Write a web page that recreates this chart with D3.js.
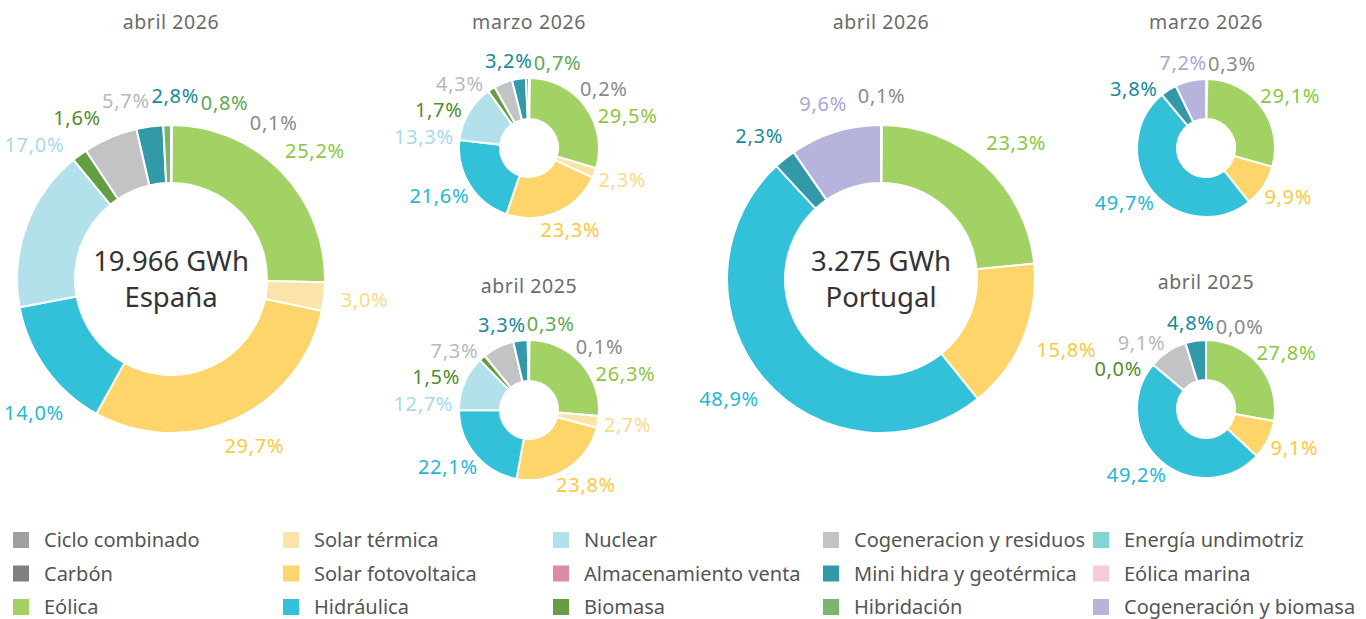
<!DOCTYPE html>
<html><head><meta charset="utf-8">
<script src="https://cdn.jsdelivr.net/npm/d3@7"></script>
<style>
body{margin:0;background:#fff;overflow:hidden;}
svg text{font-family:"Noto Sans",sans-serif;}
</style></head><body>
<svg id="chart" width="1366" height="619"></svg>
<script>
// ---- data ----
const categories = ["Ciclo combinado","Carbón","Eólica","Solar térmica","Solar fotovoltaica","Hidráulica","Nuclear","Almacenamiento venta","Biomasa","Cogeneracion y residuos","Mini hidra y geotérmica","Hibridación","Energía undimotriz","Eólica marina","Cogeneración y biomasa"];
const sliceColors = ["#9f9f9f","#808080","#a2d164","#fbe4a9","#fdd56a","#32c1d9","#b2e0eb","#db8aa8","#649e43","#c2c3c5","#3199a7","#7bb46d","#82d5d3","#f8c9da","#b6b4dc"];
const labelColors = ["#8a8a8a","#6f6f6f","#8cc63e","#fcd98b","#fcc93e","#1fb8d3","#a6dbe8","#d4749a","#4f8c2b","#b8b9bb","#16899a","#62a855","#5cc8c6","#f2aec8","#a9a6d6"];

// percentages in category order (null = not present)
const espanaAbr2026 = [0.1,null,25.2,3.0,29.7,14.0,17.0,null,1.6,5.7,2.8,0.8,null,null,null];
const espanaMar2026 = [0.2,null,29.5,2.3,23.3,21.6,13.3,null,1.7,4.3,3.2,0.7,null,null,null];
const espanaAbr2025 = [0.1,null,26.3,2.7,23.8,22.1,12.7,null,1.5,7.3,3.3,0.3,null,null,null];
const portugalAbr2026 = [0.1,null,23.3,null,15.8,48.9,null,null,null,null,2.3,null,null,null,9.6];
const portugalMar2026 = [0.3,null,29.1,null,9.9,49.7,null,null,null,null,3.8,null,null,null,7.2];
const portugalAbr2025 = [0.0,null,27.8,null,9.1,49.2,null,null,0.0,9.1,4.8,null,null,null,null];

const titles = ["abril 2026","marzo 2026","abril 2025","abril 2026","marzo 2026","abril 2025"];
const totals = ["19.966 GWh","3.275 GWh"];
const countries = ["España","Portugal"];

// ---- layout ----
const panels = [
  {values:espanaAbr2026, cx:171, cy:279, r:154, ir:96, titleY:29, title:titles[0], center:[totals[0],countries[0]]},
  {values:espanaMar2026, cx:529, cy:148, r:70, ir:29, titleY:29, title:titles[1]},
  {values:espanaAbr2025, cx:529, cy:410, r:70, ir:29, titleY:293, title:titles[2]},
  {values:portugalAbr2026, cx:881, cy:279, r:154, ir:96, titleY:29, title:titles[3], center:[totals[1],countries[1]]},
  {values:portugalMar2026, cx:1206, cy:148, r:69, ir:29, titleY:29, title:titles[4]},
  {values:portugalAbr2025, cx:1206, cy:409, r:69, ir:29, titleY:289, title:titles[5]}
];

const W = 1366;
const svg = d3.select("#chart");
const fmt = v => d3.format(".1f")(v).replace(".", ",") + "%";

function boxOf(l, R){
  const s=Math.sin(l.phi), c=Math.cos(l.phi);
  const x = s*R + s*l.w/2, y = -c*R - c*l.h/2;
  return [x-l.w/2, y-l.h/2, x+l.w/2, y+l.h/2];
}
function overlap(a,b,pad){ return a[0] < b[2]+pad && b[0] < a[2]+pad && a[1] < b[3]+pad && b[1] < a[3]+pad; }
function relax(labels, R, cx){
  const n = labels.length, step = 0.004, TAU = 2*Math.PI;
  for (let it=0; it<6000; it++){
    let any=false;
    for (let i=0;i<n;i++) for (let j=i+1;j<n;j++){
      const a=labels[i], b=labels[j];
      if (overlap(boxOf(a,R), boxOf(b,R), 1)){
        const d = (((b.phi - a.phi) % TAU) + TAU) % TAU;
        if (d < Math.PI){ a.phi -= step; b.phi += step; } else { a.phi += step; b.phi -= step; }
        any=true;
      }
    }
    labels.forEach(l=>{
      const bx = boxOf(l,R);
      if (cx + bx[0] < 4 || cx + bx[2] > W-4){
        const s=Math.sin(l.phi), c=Math.cos(l.phi);
        l.phi -= Math.sign(s*c)*step; any=true;
      }
    });
    if(!any) break;
  }
  labels.forEach(l=>{ const s=Math.sin(l.phi), c=Math.cos(l.phi); l.bx = s*R + s*l.w/2; l.by = -c*R - c*l.h/2; });
}

panels.forEach(p=>{
  const g = svg.append("g").attr("transform",`translate(${p.cx},${p.cy})`);
  const items = categories.map((c,i)=>({cat:c, i, v:p.values[i]})).filter(d=>d.v!==null);
  const arcs = d3.pie().sort(null).value(d=>d.v).startAngle(0).endAngle(2*Math.PI)(items);
  const arc = d3.arc().innerRadius(p.ir).outerRadius(p.r);
  g.selectAll("path.slice").data(arcs).join("path").attr("class","slice")
    .attr("d",arc).attr("fill",d=>sliceColors[d.data.i])
    .attr("stroke","#fff").attr("stroke-width",2).attr("stroke-linejoin","round");

  svg.append("text").attr("x",p.cx).attr("y",p.titleY).attr("text-anchor","middle")
    .attr("font-size",19.5).attr("letter-spacing","0.6px").attr("fill","#6b6b6b").text(p.title);

  if (p.center){
    g.append("text").attr("text-anchor","middle").attr("y",-8).attr("font-size",27.5).attr("fill","#333").text(p.center[0]);
    g.append("text").attr("text-anchor","middle").attr("y",28).attr("font-size",27.5).attr("fill","#333").text(p.center[1]);
  }

  const labels = arcs.map(d=>({d, text:fmt(d.data.v), phi:(d.startAngle+d.endAngle)/2, h:25}));
  const texts = g.selectAll("text.lbl").data(labels).join("text").attr("class","lbl")
    .attr("text-anchor","middle").attr("font-size",20).attr("letter-spacing","0.7px")
    .attr("fill",l=>labelColors[l.d.data.i]).text(l=>l.text);
  texts.each(function(l){ l.w = this.getComputedTextLength(); });
  relax(labels, p.r + p.r*0.13 - 3, p.cx);
  texts.attr("x",l=>l.bx).attr("y",l=>l.by+7.2);
});

// ---- legend ----
const legend = svg.append("g");
const rows = 3;
categories.forEach((c,i)=>{
  const col = Math.floor(i/rows), row = i%rows;
  const x = 13 + col*270, y = 540 + row*33.5;
  legend.append("rect").attr("x",x).attr("y",y-8).attr("width",16).attr("height",16).attr("fill",sliceColors[i]);
  legend.append("text").attr("x",x+31).attr("y",y+7).attr("font-size",20).attr("fill","#555").text(c);
});
</script>
</body></html>
